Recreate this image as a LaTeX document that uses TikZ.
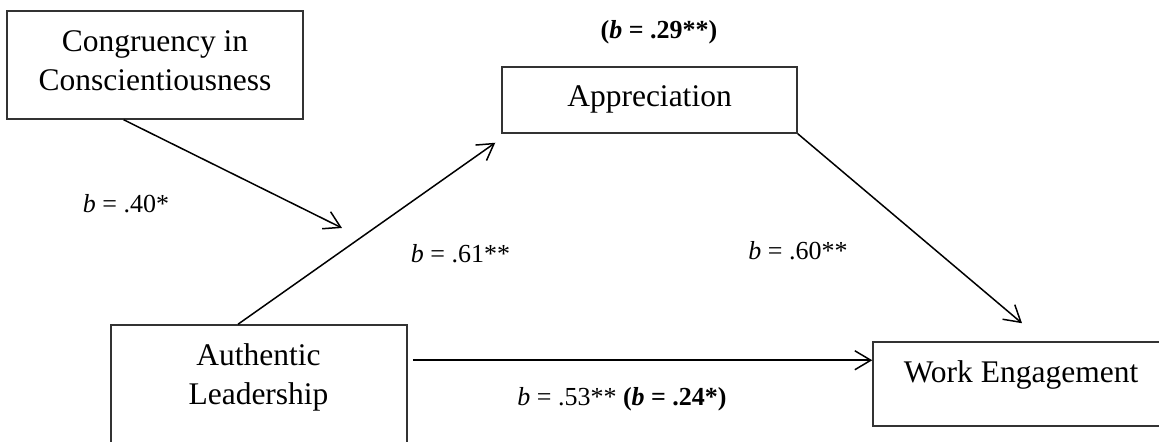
\documentclass[tikz,border=0pt]{standalone}
\usepackage{fontspec}
\setmainfont{Liberation Serif}
\usetikzlibrary{arrows.meta}
\begin{document}
\begin{tikzpicture}[x=0.5pt,y=-0.5pt,
  box/.style={draw=black!80, line width=0.75pt, inner sep=0pt, rectangle},
  boxtext/.style={font=\fontsize{15.75}{19.5}\selectfont, align=center, inner sep=0pt},
  lab/.style={font=\fontsize{13}{15.6}\selectfont, anchor=base, inner sep=0pt},
  arr/.style={line width=0.75pt, -{Straight Barb[length=8pt,width=9.5pt,line width=0.75pt]}}]
\useasboundingbox (0,0) rectangle (1159,442);
\clip (0,0) rectangle (1159,442);
% boxes
\node[box, minimum width=148pt, minimum height=54pt] (cc) at (155,65) {};
\node[boxtext] (cct) at (155,60.5) {Congruency in\\Conscientiousness};
\node[box, minimum width=147.5pt, minimum height=33pt] (ap) at (649.5,100) {};
\node[boxtext, anchor=base] (apt) at (649.5,107) {Appreciation};
\node[box, minimum width=148pt, minimum height=67.5pt] (al) at (259,392.5) {};
\node[boxtext] (alt) at (258.5,377.7) {Authentic\\Leadership};
\node[box, minimum width=151pt, minimum height=42pt] (we) at (1024,384) {};
\node[boxtext, anchor=base] (wet) at (1021,382) {Work Engagement};
% moderator target
\coordinate (mod) at (342,228);
% connectors
\draw[arr] ([xshift=58.7pt]cc.south west) -- (mod);
\draw[arr] ([xshift=-10.5pt]al.north) -- ([xshift=-3pt,yshift=-4.5pt]ap.south west);
\draw[arr] (ap.south east) -- ([xshift=-1pt,yshift=9pt]we.north);
\draw[arr] ([xshift=2.5pt,yshift=-18pt]al.north east) coordinate (h0) -- (h0 -| we.west);
% labels
\node[lab] (l1) at (659,39) {\textbf{(\textit{b} = .29**)}};
\node[lab] (l2) at (126,213) {\textit{b} = .40*};
\node[lab] (l3) at (460.5,263) {\textit{b} = .61**};
\node[lab] (l4) at (798,260) {\textit{b} = .60**};
\node[lab] (l5) at (622,405) {\textit{b} = .53** \textbf{(\textit{b} = .24*)}};
\end{tikzpicture}
\end{document}
